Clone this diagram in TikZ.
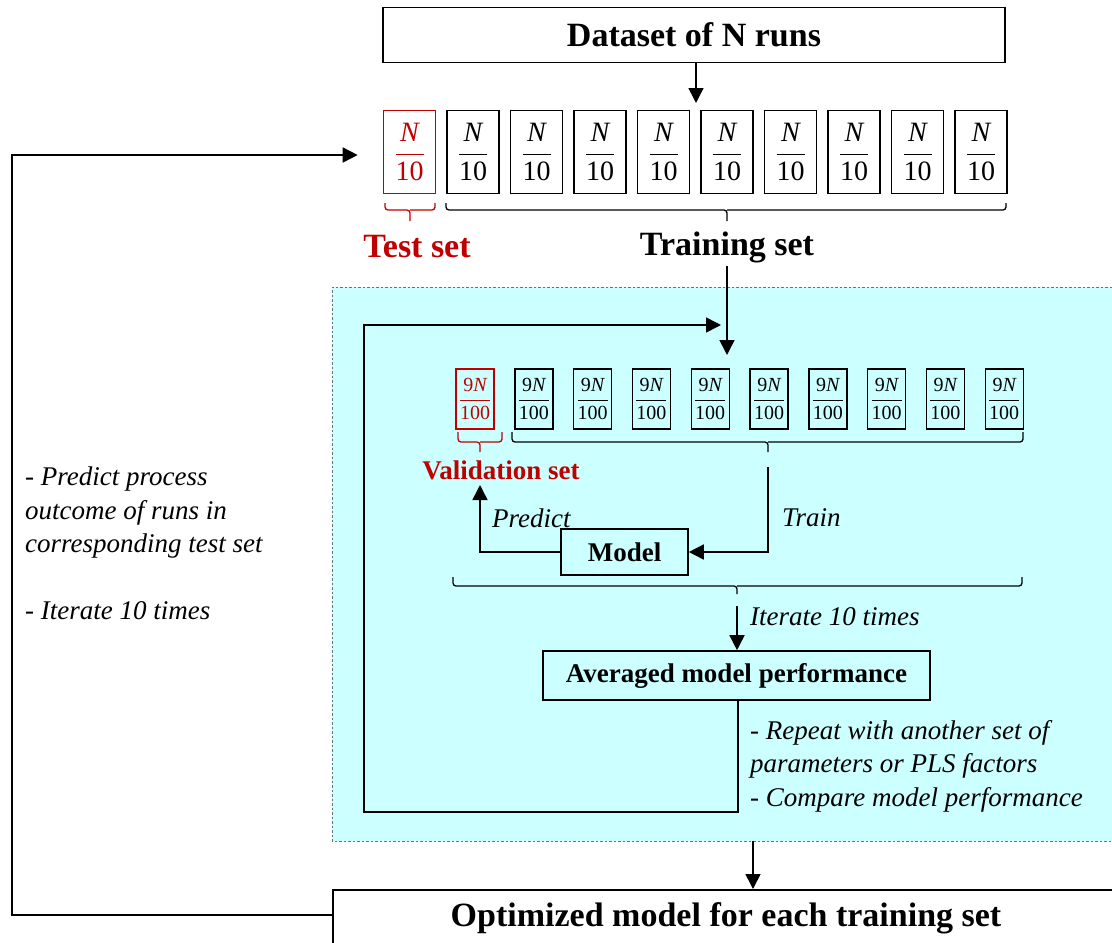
\RequirePackage{fix-cm}
\documentclass[tikz,border=0pt]{standalone}
\usepackage{fontspec}
\setmainfont{Liberation Serif}
\usetikzlibrary{arrows.meta,calc}
\definecolor{darkred}{HTML}{C00000}
\definecolor{panelfill}{HTML}{CCFFFF}
\definecolor{panelline}{HTML}{707070}

% square-ish brace: left end, right end, tip x, top y, bar y, tip y, colour
\newcommand\sqbrace[7]{%
  \draw[#7, line width=1.3pt, rounded corners=3pt] (#1,#4) |- (#3,#5) -- (#3,#6);
  \draw[#7, line width=1.3pt, rounded corners=3pt] (#2,#4) |- (#3,#5);
}
% fraction set with the text fonts
\newcommand\foldfrac[2]{$\displaystyle\frac{\hbox{#1}}{\hbox{#2}}$}

\begin{document}
\begin{tikzpicture}[x=1pt, y=-1pt,
  box/.style={draw, line width=1.6pt, inner sep=0pt},
  bigbox/.style={box, minimum width=52pt, minimum height=83pt},
  smallbox/.style={box, line width=1.4pt, minimum width=38pt, minimum height=60pt},
  arr/.style={line width=1.6pt, -{Triangle[width=15pt,length=15pt]}},
  bigbold/.style={font=\fontsize{34}{40}\selectfont\bfseries},
  midbold/.style={font=\fontsize{27}{32}\selectfont\bfseries},
  note/.style={font=\fontsize{27}{33.5}\selectfont\itshape, align=left, inner sep=0pt},
  bigfrac/.style={font=\fontsize{28}{32}\selectfont},
  smallfrac/.style={font=\fontsize{20}{24}\selectfont},
]
\useasboundingbox (0,0) rectangle (1112,943);
\clip (0,0) rectangle (1112,943);

% shaded panel for the inner cross-validation
\node[fill=panelfill, inner sep=0pt, minimum width=800pt, minimum height=554pt,
      anchor=north west] (pnl) at (332,287) {};
\draw[panelline, line width=0.8pt, dash pattern=on 2.5pt off 2pt]
  (1130,287) -- (332,287) -- (332,841) -- (1130,841);

% dataset and outer folds
\node[box, minimum width=622pt, minimum height=55pt, bigbold] (ds) at (694,35) {Dataset of N runs};

\node[bigbox, draw=darkred, text=darkred, bigfrac] (f0) at (409.5,152) {\foldfrac{\itshape N}{10}};
\foreach \i in {1,...,9}{
  \pgfmathsetmacro\xx{409.5+63.5*\i}
  \node[bigbox, bigfrac] (f\i) at (\xx,152) {\foldfrac{\itshape N}{10}};
}
\draw[arr] (ds.south -| 696,0) -- (696,103);

\sqbrace{385}{435}{410}{203}{210}{221}{darkred}
\sqbrace{446}{1006}{727}{203}{210}{221}{black}

\node[bigbold, text=darkred] (test) at (417,247) {Test set};
\node[bigbold] (train) at (727,247) {Training set};

% inner folds
\coordinate (in2) at (727,355);
\draw[arr] (train.south) -- (in2);

\node[smallbox, draw=darkred, text=darkred, smallfrac] (g0) at (475,399) {\foldfrac{9\itshape N}{100}};
\foreach \i in {1,...,9}{
  \pgfmathsetmacro\xx{475+58.8*\i}
  \node[smallbox, smallfrac] (g\i) at (\xx,399) {\foldfrac{9\itshape N}{100}};
}

\sqbrace{458}{502}{480}{432}{442}{452}{darkred}
\sqbrace{512}{1023}{768}{432}{442}{452}{black}

\node[midbold, text=darkred] (val) at (501,470) {Validation set};

% model training and prediction
\node[box, minimum width=127pt, minimum height=46pt, midbold] (model) at (624.5,552) {Model};
\coordinate (trainstart) at (768,467);
\draw[arr] (trainstart) |- (model.east);
\node[note, anchor=west] at (782,518) {Train};
\draw[arr] (model.west) -| (480,485);
\node[note, anchor=west] at (492,518) {Predict};

\sqbrace{453}{1022}{737}{577}{586}{594}{black}

\node[box, minimum width=387pt, minimum height=49pt, midbold] (avg) at (736.5,675.5) {Averaged model performance};
\coordinate (itstart) at (737,606);
\draw[arr] (itstart) -- (avg.north -| itstart);
\node[note, anchor=west] at (750,617) {Iterate 10 times};

% repeat loop
\coordinate (loopend) at (721,325);
\draw[arr] (avg.south -| 738,0) |- (364,812) |- (loopend);
\node[note, anchor=north west] at (750,720) {- Repeat with another set of\\parameters or PLS factors\\- Compare model performance};

% final model and outer loop
\node[box, minimum width=800pt, minimum height=62pt, anchor=north west] (opt) at (332,889) {};
\node[bigbold] (optlabel) at (726,918) {Optimized model for each training set};
\draw[arr] (pnl.south -| 753,0) -- (opt.north -| 753,0);
\draw[arr] (opt.west |- 0,915) -| (12,155) -- ([xshift=-25pt]f0.west |- 0,155);
\node[note, anchor=north west] at (25,467) {- Predict process\\outcome of runs in\\corresponding test set\\[33.5pt]- Iterate 10 times};
\end{tikzpicture}
\end{document}
